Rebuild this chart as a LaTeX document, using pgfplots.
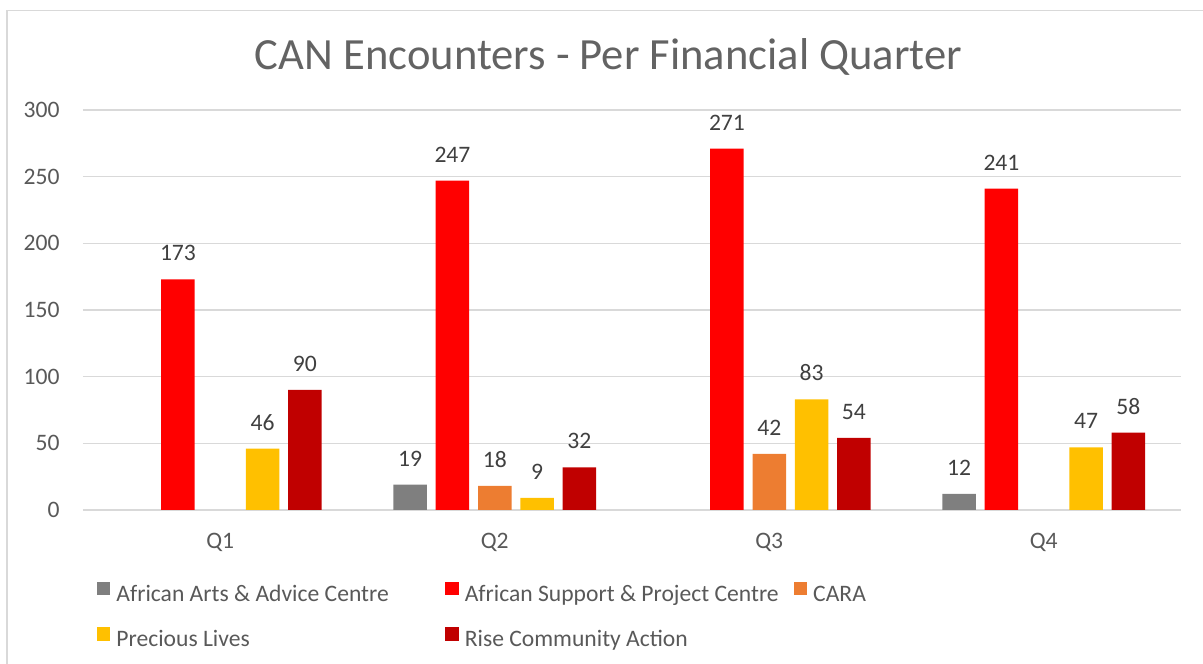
\documentclass[border=0pt]{standalone}
\usepackage{pgfplots}
\pgfplotsset{compat=1.18}
\usepackage{fontspec}
\setmainfont{Carlito}
\definecolor{cgray}{HTML}{7F7F7F}
\definecolor{cred}{HTML}{FF0000}
\definecolor{corange}{HTML}{ED7D31}
\definecolor{cyellow}{HTML}{FFC000}
\definecolor{cdark}{HTML}{C00000}
\definecolor{txt}{HTML}{595959}
\definecolor{ttl}{HTML}{636363}
\definecolor{lbl}{HTML}{404040}
\definecolor{gridc}{HTML}{D9D9D9}
\newcommand{\smallf}{\fontsize{11.8}{14}\selectfont}
\begin{document}
\begin{tikzpicture}
\useasboundingbox (-41.5pt,-76.5pt) rectangle (560pt,255pt);
\draw[gridc, line width=0.75pt] (-38pt,-90pt) -- (-38pt,249.75pt) -- (580pt,249.75pt);
\node[anchor=base, text=ttl, font=\fontsize{22.3}{27}\selectfont, inner sep=0pt] at (262.75pt,220pt) {CAN Encounters - Per Financial Quarter};
\begin{axis}[
  at={(0pt,0pt)}, anchor=south west,
  scale only axis, width=549pt, height=200pt,
  xmin=-0.5, xmax=3.5, ymin=0, ymax=300,
  xtick={0,1,2,3}, xticklabels={Q1,Q2,Q3,Q4},
  ytick={0,50,...,300},
  ymajorgrids, grid style={gridc, line width=0.65pt},
  axis line style={draw=none},
  major tick length=0pt,
  /pgf/number format/assume math mode=true,
  tick label style={font=\smallf, text=txt},
  xticklabel style={anchor=base, yshift=-19.5pt, inner sep=0pt},
  yticklabel style={anchor=east, xshift=-11.5pt, inner sep=0pt},
  ybar=4.4pt, bar width=16.75pt,
  nodes near coords,
  every node near coord/.append style={font=\smallf, text=lbl, anchor=south, yshift=9pt, inner sep=0pt},
  clip=false,
  legend columns=3,
  legend cell align=left,
  legend image code/.code={\fill[#1,draw=none] (0pt,0pt) rectangle (6.7pt,6.7pt);},
  legend style={draw=none, fill=none, inner sep=0pt, outer sep=0pt,
    at={(0.01275,-0.18)}, anchor=north west, font=\smallf, text=txt,
    row sep=11pt, column sep=0pt,
    nodes={inner sep=0pt, text height=8pt, text depth=2pt}},
  /tikz/every odd column/.append style={column sep=3pt},
]
\addplot[fill=cgray, draw=none] coordinates {(1,19) (3,12)};
\addlegendentry{\makebox[164.5pt][l]{African Arts \& Advice Centre}}
\addplot[fill=cred, draw=none] coordinates {(0,173) (1,247) (2,271) (3,241)};
\addlegendentry{\makebox[164.5pt][l]{African Support \& Project Centre}}
\addplot[fill=corange, draw=none] coordinates {(1,18) (2,42)};
\addlegendentry{\makebox[164.5pt][l]{CARA}}
\addplot[fill=cyellow, draw=none] coordinates {(0,46) (1,9) (2,83) (3,47)};
\addlegendentry{\makebox[164.5pt][l]{Precious Lives}}
\addplot[fill=cdark, draw=none] coordinates {(0,90) (1,32) (2,54) (3,58)};
\addlegendentry{\makebox[164.5pt][l]{Rise Community Action}}
\end{axis}
\end{tikzpicture}
\end{document}
